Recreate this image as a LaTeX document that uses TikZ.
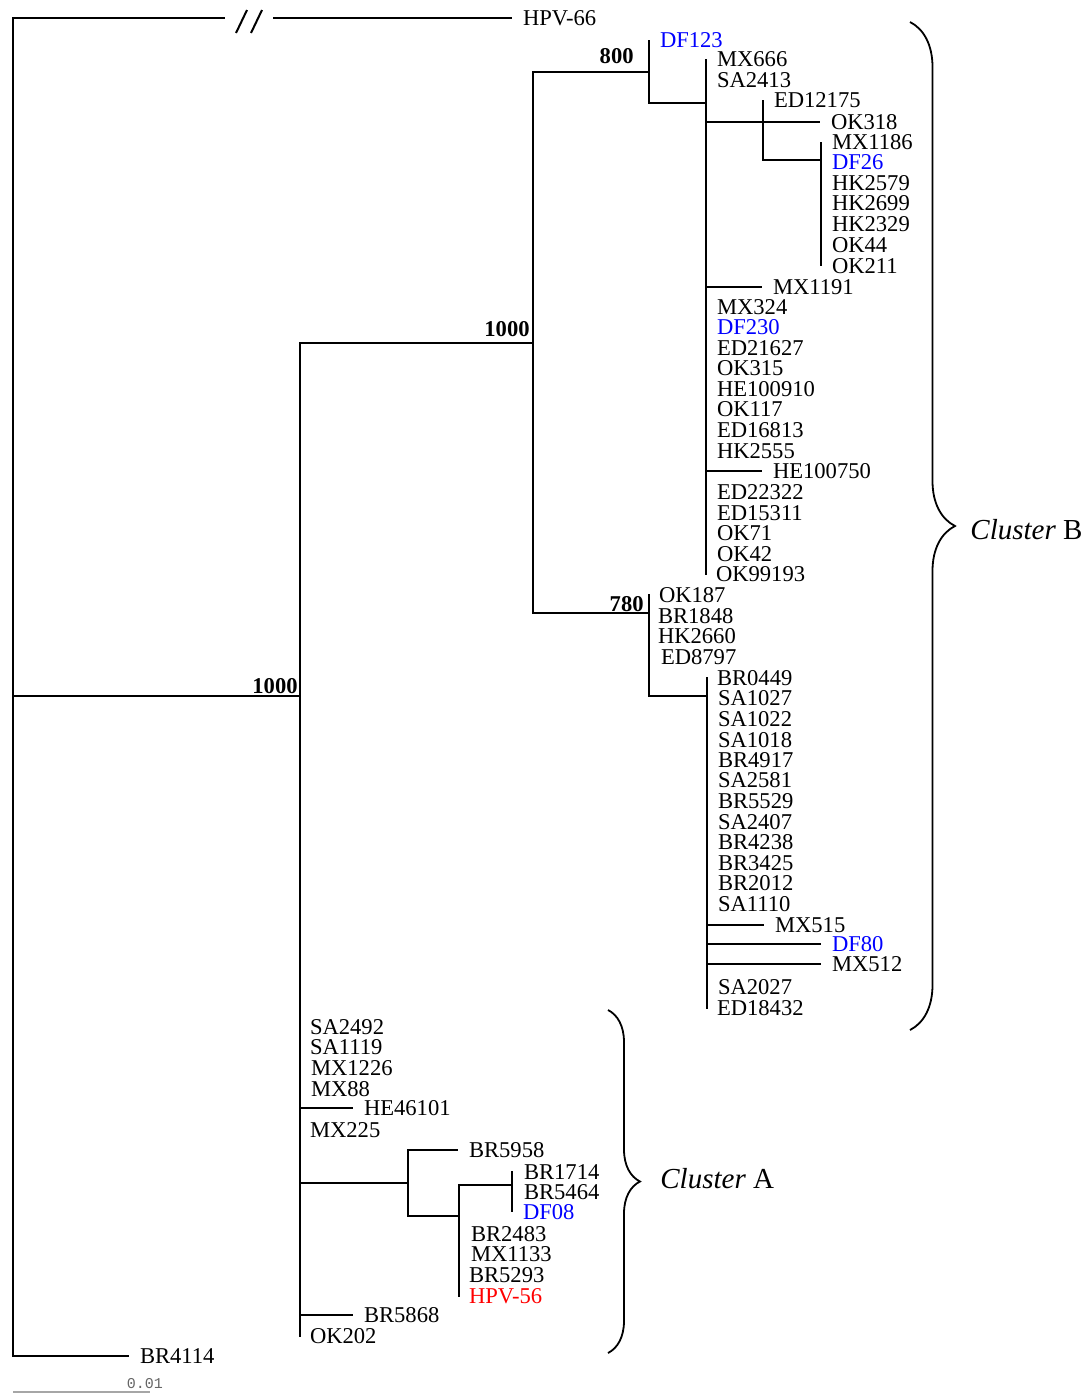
\documentclass[tikz,border=0pt]{standalone}
\usepackage{fontspec}
\setmainfont{Liberation Serif}
\newfontfamily\barfont{Liberation Mono}
\usetikzlibrary{positioning}
\usetikzlibrary{decorations.pathreplacing}

\begin{document}
\begin{tikzpicture}[x=0.5pt,y=-0.5pt,
        branch/.style={line width=1pt},
        leaf/.style={anchor=west,inner sep=0pt,outer sep=5.5pt,font=\fontsize{11.3}{13}\selectfont},
        dfleaf/.style={leaf,text=blue},
        refleaf/.style={leaf,text=red},
        boot/.style={inner sep=0pt,font=\bfseries\fontsize{11.3}{13}\selectfont},
        cbrace/.style={line width=0.9pt,decorate,decoration={brace,amplitude=#1}},
        clus/.style={anchor=west,inner sep=0pt,font=\fontsize{14.5}{17}\selectfont}]
        \useasboundingbox (0,0) rectangle (1088,1394);
        % inner nodes
        \coordinate (root) at (13,696);
        \coordinate (nA) at (300,696);
        \coordinate (nB) at (533,343);
        \coordinate (nB1) at (649,72);
        \coordinate (nB1a) at (706,103);
        \coordinate (nB1b) at (763,122);
        \coordinate (nB1c) at (821,160);
        \coordinate (nB2) at (649,613);
        \coordinate (nB2a) at (707,696);
        \coordinate (nA1) at (408,1183);
        \coordinate (nA2) at (459,1216);
        \coordinate (nA3) at (512,1185);
        \coordinate (brk1) at (225,18);
        \coordinate (brk2) at (273,18);
        % leaves
        \node[leaf] (hpv66) at (512,18) {HPV-66};
        \node[dfleaf] (df123) at (649,40) {DF123};
        \node[leaf] (mx666) at (706,59) {MX666};
        \node[leaf] (sa2413) at (706,80) {SA2413};
        \node[leaf] (ed12175) at (763,100) {ED12175};
        \node[leaf] (ok318) at (820,122) {OK318};
        \node[leaf] (mx1186) at (821,142) {MX1186};
        \node[dfleaf] (df26) at (821,162) {DF26};
        \node[leaf] (hk2579) at (821,183) {HK2579};
        \node[leaf] (hk2699) at (821,203) {HK2699};
        \node[leaf] (hk2329) at (821,224) {HK2329};
        \node[leaf] (ok44) at (821,245) {OK44};
        \node[leaf] (ok211) at (821,266) {OK211};
        \node[leaf] (mx1191) at (762,287) {MX1191};
        \node[leaf] (mx324) at (706,307) {MX324};
        \node[dfleaf] (df230) at (706,327) {DF230};
        \node[leaf] (ed21627) at (706,348) {ED21627};
        \node[leaf] (ok315) at (706,368) {OK315};
        \node[leaf] (he100910) at (706,389) {HE100910};
        \node[leaf] (ok117) at (706,409) {OK117};
        \node[leaf] (ed16813) at (706,430) {ED16813};
        \node[leaf] (hk2555) at (706,451) {HK2555};
        \node[leaf] (he100750) at (762,471) {HE100750};
        \node[leaf] (ed22322) at (706,492) {ED22322};
        \node[leaf] (ed15311) at (706,513) {ED15311};
        \node[leaf] (ok71) at (706,533) {OK71};
        \node[leaf] (ok42) at (706,554) {OK42};
        \node[leaf] (ok99193) at (705,574) {OK99193};
        \node[leaf] (ok187) at (648,595) {OK187};
        \node[leaf] (br1848) at (647,616) {BR1848};
        \node[leaf] (hk2660) at (647,636) {HK2660};
        \node[leaf] (ed8797) at (650,657) {ED8797};
        \node[leaf] (br0449) at (706,678) {BR0449};
        \node[leaf] (sa1027) at (707,698) {SA1027};
        \node[leaf] (sa1022) at (707,719) {SA1022};
        \node[leaf] (sa1018) at (707,740) {SA1018};
        \node[leaf] (br4917) at (707,760) {BR4917};
        \node[leaf] (sa2581) at (707,780) {SA2581};
        \node[leaf] (br5529) at (707,801) {BR5529};
        \node[leaf] (sa2407) at (707,822) {SA2407};
        \node[leaf] (br4238) at (707,842) {BR4238};
        \node[leaf] (br3425) at (707,863) {BR3425};
        \node[leaf] (br2012) at (707,883) {BR2012};
        \node[leaf] (sa1110) at (707,904) {SA1110};
        \node[leaf] (mx515) at (764,925) {MX515};
        \node[dfleaf] (df80) at (821,944) {DF80};
        \node[leaf] (mx512) at (821,964) {MX512};
        \node[leaf] (sa2027) at (707,987) {SA2027};
        \node[leaf] (ed18432) at (706,1008) {ED18432};
        \node[leaf] (sa2492) at (299,1027) {SA2492};
        \node[leaf] (sa1119) at (299,1047) {SA1119};
        \node[leaf] (mx1226) at (300,1068) {MX1226};
        \node[leaf] (mx88) at (300,1089) {MX88};
        \node[leaf] (he46101) at (353,1108) {HE46101};
        \node[leaf] (mx225) at (299,1130) {MX225};
        \node[leaf] (br5958) at (458,1150) {BR5958};
        \node[leaf] (br1714) at (513,1172) {BR1714};
        \node[leaf] (br5464) at (513,1192) {BR5464};
        \node[dfleaf] (df08) at (512,1212) {DF08};
        \node[leaf] (br2483) at (460,1234) {BR2483};
        \node[leaf] (mx1133) at (460,1254) {MX1133};
        \node[leaf] (br5293) at (458,1275) {BR5293};
        \node[refleaf] (hpv56) at (458,1296) {HPV-56};
        \node[leaf] (br5868) at (353,1315) {BR5868};
        \node[leaf] (ok202) at (299,1336) {OK202};
        \node[leaf] (br4114) at (129,1356) {BR4114};
        % branches
        \draw[branch] (root) |- (brk1);
        \draw[branch] (brk2) -- (hpv66);
        \draw[branch] (236,33) -- (247,10);
        \draw[branch] (251,33) -- (262,10);
        \draw[branch] (root) |- (br4114);
        \draw[branch] (root) -- (nA);
        \draw[branch] (nA) |- (nB);
        \draw[branch] (nA) |- (ok202);
        \draw[branch] (nB) |- (nB1);
        \draw[branch] (nB) |- (nB2);
        \draw[branch] (nB1) |- (df123);
        \draw[branch] (nB1) |- (nB1a);
        \draw[branch] (nB1a) |- (mx666);
        \draw[branch] (nB1a) |- (ok99193);
        \draw[branch] (nB1a) |- (nB1b);
        \draw[branch] (nB1a) |- (mx1191);
        \draw[branch] (nB1a) |- (he100750);
        \draw[branch] (nB1b) |- (ed12175);
        \draw[branch] (nB1b) -- (ok318);
        \draw[branch] (nB1b) |- (nB1c);
        \draw[branch] (nB1c) |- (mx1186);
        \draw[branch] (nB1c) |- (ok211);
        \draw[branch] (nB2) |- (ok187);
        \draw[branch] (nB2) |- (nB2a);
        \draw[branch] (nB2a) |- (br0449);
        \draw[branch] (nB2a) |- (ed18432);
        \draw[branch] (nB2a) |- (mx515);
        \draw[branch] (nB2a) |- (df80);
        \draw[branch] (nB2a) |- (mx512);
        \draw[branch] (nA) |- (he46101);
        \draw[branch] (nA) |- (nA1);
        \draw[branch] (nA) |- (br5868);
        \draw[branch] (nA1) |- (br5958);
        \draw[branch] (nA1) |- (nA2);
        \draw[branch] (nA2) |- (nA3);
        \draw[branch] (nA2) |- (hpv56);
        \draw[branch] (nA3) |- (br1714);
        \draw[branch] (nA3) |- (df08);
        % bootstrap values
        \node[boot, above left=4pt and 7.5pt of nB1] (bs800) {800};
        \node[boot, above left=3pt and 1.5pt of nB] (bs1000b) {1000};
        \node[boot, above left=0.5pt and 2.5pt of nB2] (bs780) {780};
        \node[boot, above left=1pt and 1pt of nA] (bs1000a) {1000};
        % clusters
        \coordinate (bBtop) at (910,22);
        \coordinate (bBbot) at (910,1030);
        \coordinate (bAtop) at (608,1010);
        \coordinate (bAbot) at (608,1353);
        \draw[cbrace=22.5pt] (bBtop) -- (bBbot);
        \draw[cbrace=16pt] (bAtop) -- (bAbot);
        \node[clus] (clB) at (970,530) {\itshape Cluster\/ \upshape B};
        \node[clus] (clA) at (660,1179) {\itshape Cluster\/ \upshape A};
        % scale bar
        \coordinate (sb1) at (13,1392);
        \coordinate (sb2) at (150,1392);
        \draw[gray!70, line width=0.8pt] (sb1) -- (sb2);
        \node[inner sep=0pt, text=gray!80!black, font=\barfont\fontsize{7.5}{9}\selectfont] (sblabel) at (145,1384) {0.01};
\end{tikzpicture}
\end{document}
